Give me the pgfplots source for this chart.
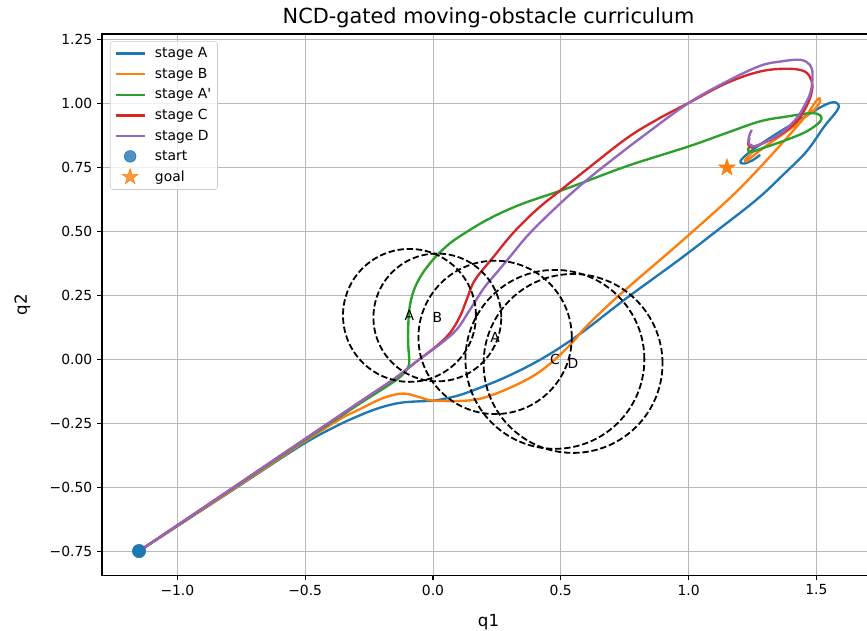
\documentclass[border=0pt]{standalone}
\usepackage{pgfplots}
\pgfplotsset{compat=1.18}
\usepackage{pgfplotstable}
\usepackage{fontspec}
\setmainfont{DejaVu Sans}

\definecolor{tabblue}{HTML}{1F77B4}
\definecolor{taborange}{HTML}{FF7F0E}
\definecolor{tabgreen}{HTML}{2CA02C}
\definecolor{tabred}{HTML}{D62728}
\definecolor{tabpurple}{HTML}{9467BD}

% filled five-point star, like matplotlib's '*'
\pgfdeclareplotmark{fstar}{%
  \pgfpathmoveto{\pgfpointpolar{90}{\pgfplotmarksize}}%
  \pgfpathlineto{\pgfpointpolar{126}{0.382\pgfplotmarksize}}%
  \pgfpathlineto{\pgfpointpolar{162}{\pgfplotmarksize}}%
  \pgfpathlineto{\pgfpointpolar{198}{0.382\pgfplotmarksize}}%
  \pgfpathlineto{\pgfpointpolar{234}{\pgfplotmarksize}}%
  \pgfpathlineto{\pgfpointpolar{270}{0.382\pgfplotmarksize}}%
  \pgfpathlineto{\pgfpointpolar{306}{\pgfplotmarksize}}%
  \pgfpathlineto{\pgfpointpolar{342}{0.382\pgfplotmarksize}}%
  \pgfpathlineto{\pgfpointpolar{18}{\pgfplotmarksize}}%
  \pgfpathlineto{\pgfpointpolar{54}{0.382\pgfplotmarksize}}%
  \pgfpathclose\pgfusepathqfillstroke}

% obstacles: centre, radius, label
\pgfplotstableread{
cx     cy     r    lab
-0.092 0.172  0.26 A
0.017  0.164  0.25 B
0.243  0.086  0.30 A
0.477  0.000  0.35 C
0.548  -0.016 0.35 D
}\obstacles

\begin{document}
\begin{tikzpicture}
\begin{axis}[
  x=184pt, y=184pt,
  xmin=-1.295, xmax=1.73, ymin=-0.844, ymax=1.273,
  axis line style={line width=0.8pt},
  tick style={line width=0.8pt, black},
  tick align=outside, major tick length=3.5pt, tick pos=left,
  grid=major, major grid style={line width=0.7pt, color=black!28},
  xtick={-1,-0.5,0,0.5,1,1.5},
  xticklabels={−1.0,−0.5,0.0,0.5,1.0,1.5},
  ytick={-0.75,-0.5,-0.25,0,0.25,0.5,0.75,1,1.25},
  yticklabels={−0.75,−0.50,−0.25,0.00,0.25,0.50,0.75,1.00,1.25},
  ticklabel style={font=\fontsize{10}{12}\selectfont},
  xlabel={q1}, ylabel={q2},
  label style={font=\fontsize{12}{14}\selectfont},
  xlabel style={yshift=-7pt},
  ylabel style={yshift=7pt},
  title={NCD-gated moving-obstacle curriculum},
  title style={font=\fontsize{15}{18}\selectfont, yshift=-5pt},
  legend style={at={(0.0103,0.987)}, anchor=north west, draw=black!20,
    rounded corners=2pt, fill=white, fill opacity=0.8, text opacity=1,
    font=\fontsize{10}{12}\selectfont, inner xsep=3pt, inner ysep=3pt,
    row sep=3pt, nodes={inner sep=1.5pt},
    /tikz/every odd column/.append style={column sep=5pt}},
  legend cell align=left,
  legend image code/.code={\draw[#1] (0pt,0pt) -- (21pt,0pt);},
  every axis plot/.append style={line join=round},
]
% obstacles
\addplot[scatter, only marks, mark=o, forget plot,
  visualization depends on={184*\thisrow{r} \as \rad},
  scatter/use mapped color={draw=black},
  scatter/@pre marker code/.append style={/tikz/mark size=\rad},
  mark options={line width=1.3pt, dash pattern=on 4.6pt off 2pt, fill=none}]
  table[x=cx, y=cy] {\obstacles};

% start and goal
\addplot[only marks, mark=*, mark size=4.8pt, color=tabblue, forget plot]
  coordinates {(-1.15,-0.75)};
\addplot[only marks, mark=fstar, mark size=6.5pt, color=taborange, fill=taborange, forget plot]
  coordinates {(1.15,0.75)};

% stage A
\addplot[tabblue, line width=1.7pt, smooth, tension=0.6] coordinates {
(-1.15,-0.75) (-0.8,-0.522) (-0.52,-0.339) (-0.38,-0.262) (-0.286,-0.219)
(-0.207,-0.189) (-0.129,-0.17) (-0.05,-0.164) (0.0,-0.162) (0.093,-0.143)
(0.184,-0.111) (0.288,-0.068) (0.40,-0.012) (0.5,0.048) (0.6,0.118)
(0.758,0.24) (0.966,0.392) (1.1,0.495) (1.266,0.625) (1.371,0.723)
(1.462,0.814) (1.53,0.91) (1.575,0.965) (1.588,0.99) (1.578,1.004)
(1.555,1.004) (1.514,0.985) (1.423,0.931) (1.318,0.866) (1.24,0.812)
(1.203,0.776) (1.214,0.766) (1.247,0.777) (1.28,0.80)
};
\addlegendentry{stage A}

% stage B
\addplot[taborange, line width=1.7pt, smooth, tension=0.6] coordinates {
(-1.15,-0.75) (-0.8,-0.52) (-0.52,-0.333) (-0.364,-0.234) (-0.286,-0.195)
(-0.207,-0.156) (-0.15,-0.138) (-0.11,-0.134) (-0.077,-0.141) (-0.03,-0.155)
(0.0,-0.161) (0.093,-0.163) (0.184,-0.154) (0.288,-0.117) (0.392,-0.065)
(0.471,-0.006) (0.549,0.07) (0.601,0.13) (0.732,0.254) (0.966,0.456)
(1.155,0.625) (1.253,0.723) (1.384,0.866) (1.462,0.957) (1.495,1.005)
(1.512,1.022) (1.513,1.005) (1.49,0.975) (1.462,0.952) (1.384,0.892)
(1.292,0.827) (1.234,0.781) (1.221,0.775) (1.227,0.788) (1.253,0.814)
};
\addlegendentry{stage B}

% stage A'
\addplot[tabgreen, line width=1.7pt, smooth, tension=0.6] coordinates {
(-1.15,-0.75) (-0.8,-0.516) (-0.5,-0.315) (-0.3,-0.182) (-0.2,-0.118)
(-0.14,-0.078) (-0.11,-0.05) (-0.095,-0.025) (-0.093,0.0) (-0.097,0.06)
(-0.097,0.12) (-0.092,0.20) (-0.075,0.27) (-0.045,0.33) (0.0,0.39)
(0.05,0.44) (0.1,0.478) (0.21,0.545) (0.34,0.605) (0.5,0.66)
(0.6,0.697) (0.77,0.76) (1.0,0.833) (1.149,0.886) (1.279,0.931)
(1.384,0.95) (1.475,0.963) (1.515,0.955) (1.514,0.93) (1.462,0.892)
(1.384,0.859) (1.292,0.827) (1.245,0.812) (1.232,0.822) (1.25,0.84)
};
\addlegendentry{stage A\textquotesingle}

% stage C
\addplot[tabred, line width=1.7pt, smooth, tension=0.6] coordinates {
(-1.15,-0.75) (-0.8,-0.514) (-0.5,-0.311) (-0.3,-0.176) (-0.15,-0.075)
(-0.06,-0.005) (0.014,0.052) (0.067,0.104) (0.106,0.169) (0.132,0.234)
(0.164,0.31) (0.236,0.40) (0.314,0.495) (0.406,0.586) (0.497,0.66)
(0.60,0.742) (0.758,0.865) (0.88,0.94) (1.0,1.003) (1.149,1.081)
(1.279,1.126) (1.384,1.137) (1.455,1.126) (1.482,1.087) (1.482,1.048)
(1.464,0.996) (1.423,0.931) (1.358,0.879) (1.292,0.846) (1.247,0.829)
(1.234,0.84) (1.238,0.866)
};
\addlegendentry{stage C}

% stage D
\addplot[tabpurple, line width=1.7pt, smooth, tension=0.6] coordinates {
(-1.15,-0.75) (-0.8,-0.514) (-0.5,-0.311) (-0.3,-0.176) (-0.15,-0.075)
(-0.06,-0.005) (0.027,0.059) (0.093,0.117) (0.145,0.195) (0.2,0.28)
(0.25,0.34) (0.30,0.40) (0.38,0.495) (0.50,0.612) (0.60,0.70)
(0.70,0.78) (0.82,0.872) (1.0,1.003) (1.149,1.087) (1.279,1.148)
(1.358,1.165) (1.436,1.172) (1.475,1.152) (1.485,1.113) (1.478,1.048)
(1.455,0.996) (1.423,0.944) (1.371,0.892) (1.306,0.853) (1.253,0.833)
(1.236,0.845) (1.236,0.87) (1.247,0.898)
};
\addlegendentry{stage D}

\addlegendimage{legend image code/.code={\path[draw=none,fill=none] (0pt,-3pt) rectangle (21pt,3pt);
  \fill[tabblue] (10.5pt,0pt) circle (4.2pt);}}
\addlegendentry{start}
\addlegendimage{legend image code/.code={\path[draw=none,fill=none] (0pt,-3pt) rectangle (21pt,3pt);
  \draw[taborange, fill=taborange, mark size=6pt] plot[only marks, mark=fstar] coordinates {(10.5pt,0pt)};}}
\addlegendentry{goal}

% obstacle labels
\addplot[only marks, mark=none, forget plot, nodes near coords,
  point meta=explicit symbolic, nodes near coords align={center},
  every node near coord/.append style={font=\fontsize{10}{12}\selectfont, inner sep=0pt}]
  table[x=cx, y=cy, meta=lab] {\obstacles};

\coordinate (bbSW) at (axis cs:-1.694,-1.059);
\coordinate (bbNE) at (axis cs:1.698,1.406);
\end{axis}
\pgfresetboundingbox
\useasboundingbox (bbSW) rectangle (bbNE);
\end{tikzpicture}
\end{document}
